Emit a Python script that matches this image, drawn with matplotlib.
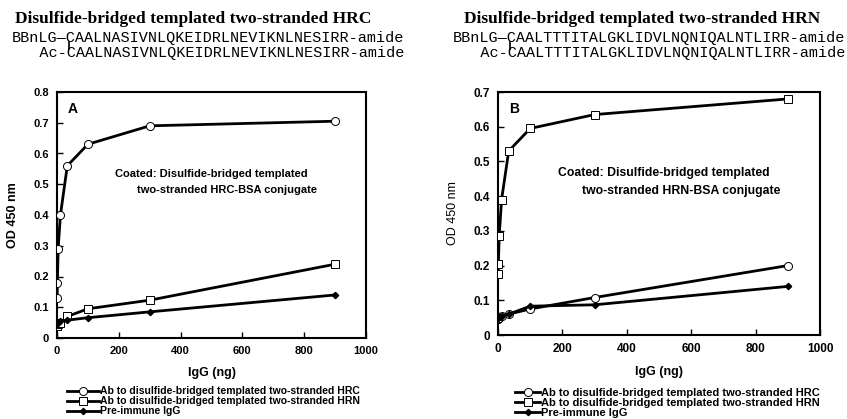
import matplotlib
matplotlib.use("Agg")
import matplotlib.pyplot as plt
from matplotlib.lines import Line2D

# IgG amounts (ng), three-fold dilution series
igg_ng = [0.41, 1.23, 3.7, 11.1, 33.3, 100, 300, 900]

# Panel A: plate coated with HRC-BSA conjugate
a_ab_hrc = [0.13, 0.18, 0.29, 0.40, 0.56, 0.63, 0.69, 0.705]
a_ab_hrn = [0.04, 0.04, 0.045, 0.05, 0.07, 0.095, 0.123, 0.24]
a_preimmune = [0.05, 0.05, 0.05, 0.055, 0.058, 0.066, 0.085, 0.14]

# Panel B: plate coated with HRN-BSA conjugate
b_ab_hrc = [0.045, 0.045, 0.05, 0.055, 0.06, 0.075, 0.108, 0.20]
b_ab_hrn = [0.175, 0.205, 0.285, 0.39, 0.53, 0.595, 0.635, 0.68]
b_preimmune = [0.05, 0.05, 0.055, 0.055, 0.06, 0.083, 0.087, 0.14]

series_labels = ["Ab to disulfide-bridged templated two-stranded HRC",
                 "Ab to disulfide-bridged templated two-stranded HRN",
                 "Pre-immune IgG"]

titles = ["Disulfide-bridged templated two-stranded HRC",
          "Disulfide-bridged templated two-stranded HRN"]
seq_top = ["BBnLG\u2014CAALNASIVNLQKEIDRLNEVIKNLNESIRR-amide",
           "BBnLG\u2014CAALTTTITALGKLIDVLNQNIQALNTLIRR-amide"]
seq_bottom = ["   Ac-CAALNASIVNLQKEIDRLNEVIKNLNESIRR-amide",
              "   Ac-CAALTTTITALGKLIDVLNQNIQALNTLIRR-amide"]
coated = [("Coated: Disulfide-bridged templated", "two-stranded HRC-BSA conjugate"),
          ("Coated: Disulfide-bridged templated", "two-stranded HRN-BSA conjugate")]

sans = "Liberation Sans"
W, H = 847, 419
fig = plt.figure(figsize=(W / 100, H / 100), dpi=100)

def fx(px):
    return px / W

def fy(py):
    return 1 - py / H

panels = [
    dict(rect=[fx(57), fy(338), fx(366) - fx(57), fy(92) - fy(338)], ymax=0.8,
         data=(a_ab_hrc, a_ab_hrn, a_preimmune), letter="A", tick_size=8,
         coat_size=8, legend_size=7.5, legend_pos=(0.02, -0.18), handle_len=3.0,
         ylabel_bold=True, title_x=193, seq_x=12,
         coat_x=(115, 137), coat_y=(174, 190)),
    dict(rect=[fx(498), fy(335), fx(820) - fx(498), fy(92) - fy(335)], ymax=0.7,
         data=(b_ab_hrc, b_ab_hrn, b_preimmune), letter="B", tick_size=8.5,
         coat_size=8.8, legend_size=8, legend_pos=(0.04, -0.20), handle_len=2.2,
         ylabel_bold=False, title_x=642, seq_x=453,
         coat_x=(558, 582), coat_y=(173, 191)),
]

seq_texts = []
for i, p in enumerate(panels):
    ax = fig.add_axes(p["rect"])
    hrc, hrn, pre = p["data"]
    ax.plot(igg_ng, hrc, color="black", lw=2, marker="o", ms=5.8,
            mfc="white", mec="black", mew=0.7, label=series_labels[0], zorder=3)
    ax.plot(igg_ng, hrn, color="black", lw=2, marker="s", ms=6,
            mfc="white", mec="black", mew=0.7, label=series_labels[1], zorder=3)
    ax.plot(igg_ng, pre, color="black", lw=2, marker="D", ms=3.2,
            mfc="black", mec="black", label=series_labels[2], zorder=4)

    n = int(round(p["ymax"] * 10))
    ax.set_xlim(0, 1000)
    ax.set_ylim(0, p["ymax"])
    ax.set_xticks(range(0, 1001, 200))
    ax.set_xticklabels([str(v) for v in range(0, 1001, 200)])
    ax.set_yticks([round(v * 0.1, 1) for v in range(n + 1)])
    ax.set_yticklabels(["0" if v == 0 else f"{v * 0.1:.1f}" for v in range(n + 1)])
    ax.tick_params(direction="in", length=4, width=1, labelsize=p["tick_size"], pad=6)
    for lab in ax.get_xticklabels() + ax.get_yticklabels():
        lab.set_fontweight("bold")
        lab.set_fontfamily(sans)
    for sp in ax.spines.values():
        sp.set_linewidth(1.5)

    ax.set_xlabel("IgG (ng)", fontsize=9, fontweight="bold", family=sans, labelpad=8)
    ax.set_ylabel("OD 450 nm", fontsize=9,
                  fontweight="bold" if p["ylabel_bold"] else "normal",
                  family=sans, labelpad=10)
    ax.text(0.035, 0.96, p["letter"], transform=ax.transAxes, fontsize=10,
            fontweight="bold", family=sans, va="top", ha="left")

    fig.text(fx(p["coat_x"][0]), fy(p["coat_y"][0]), coated[i][0],
             fontsize=p["coat_size"], fontweight="bold", family=sans,
             va="center", ha="left")
    fig.text(fx(p["coat_x"][1]), fy(p["coat_y"][1]), coated[i][1],
             fontsize=p["coat_size"], fontweight="bold", family=sans,
             va="center", ha="left")

    ax.legend(loc="upper left", bbox_to_anchor=p["legend_pos"], frameon=False,
              handlelength=p["handle_len"], handletextpad=0.1, labelspacing=0.0,
              borderaxespad=0,
              prop=dict(family=sans, weight="bold", size=p["legend_size"]))

    fig.text(fx(p["title_x"]), fy(19), titles[i], fontsize=12.5, fontweight="bold",
             family="Liberation Serif", ha="center", va="center")
    t1 = fig.text(fx(p["seq_x"]), fy(38), seq_top[i], fontsize=10.9,
                  family="Liberation Mono", ha="left", va="center")
    fig.text(fx(p["seq_x"]), fy(53), seq_bottom[i], fontsize=10.9,
             family="Liberation Mono", ha="left", va="center")
    seq_texts.append(t1)

# short bar linking the two cysteines
fig.canvas.draw()
renderer = fig.canvas.get_renderer()
for t in seq_texts:
    bb = t.get_window_extent(renderer)
    cw = bb.width / len(t.get_text())
    xc = (bb.x0 + 6.3 * cw) / W
    fig.add_artist(Line2D([xc, xc], [fy(42), fy(49)], color="black", lw=1.2))

fig.savefig("out.png", dpi=100)
